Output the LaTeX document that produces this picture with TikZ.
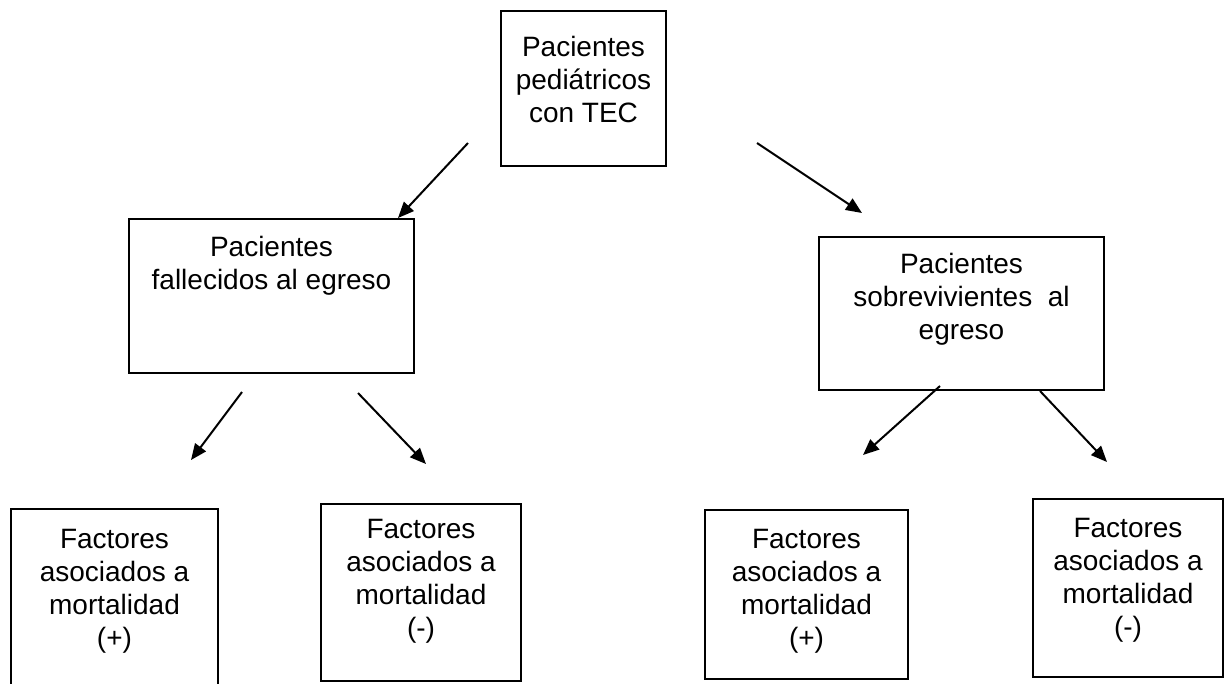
\documentclass[tikz,border=0pt]{standalone}
\usepackage{fontspec}
\setmainfont{Liberation Sans}
\usepackage{tikz}
\usetikzlibrary{arrows.meta,positioning}
\newcommand{\caja}[4]{\parbox[c][#2][t]{#1}{\centering\vspace*{#3}#4}}

\begin{document}
\begin{tikzpicture}[x=0.75pt,y=-0.75pt,
    box/.style={draw,line width=1.5pt,inner sep=0pt,anchor=north west,
      font=\fontsize{21}{24.75}\selectfont},
    flecha/.style={line width=1.5pt,-{Triangle[length=12pt,width=10pt]}}]
 \useasboundingbox (0,0) rectangle (1227,683);
 \clip (0,0) rectangle (1227,683);
 \node[box] (TEC) at (500,10)
  {\caja{123.75pt}{116.25pt}{18.75pt}{Pacientes\\pediátricos\\con TEC}};
 \node[box] (FAL) at (128,218)
  {\caja{213.75pt}{115.5pt}{12.75pt}{Pacientes\\fallecidos al egreso}};
 \node[box] (SOB) at (818,236)
  {\caja{213.75pt}{114.75pt}{12pt}{Pacientes\\sobrevivientes~ al\\egreso}};
 \node[box] (F1) at (10,508)
  {\caja{155.25pt}{150pt}{15pt}{Factores\\asociados a\\mortalidad\\(+)}};
 \node[box] (F2) at (320,503)
  {\caja{150pt}{132.75pt}{11.25pt}{Factores\\asociados a\\mortalidad\\(-)}};
 \node[box] (S1) at (704,509)
  {\caja{152.25pt}{126.75pt}{14.25pt}{Factores\\asociados a\\mortalidad\\(+)}};
 \node[box] (S2) at (1032,498)
  {\caja{142.5pt}{133.5pt}{14.25pt}{Factores\\asociados a\\mortalidad\\(-)}};
 % free arrows
 \coordinate (a1) at (468,143); \coordinate (b1) at (398,218);
 \coordinate (a2) at (757,143); \coordinate (b2) at (862,213);
 \coordinate (a3) at (242,392); \coordinate (b3) at (191,460);
 \coordinate (a4) at (358,393); \coordinate (b4) at (426,464);
 \coordinate (a5) at (940,386); \coordinate (b5) at (863,455);
 \coordinate (a6) at (1040,391); \coordinate (b6) at (1107,462);
 \path[flecha] foreach \X in {1,...,6} {(a\X) edge (b\X)};
\end{tikzpicture}
\end{document}
